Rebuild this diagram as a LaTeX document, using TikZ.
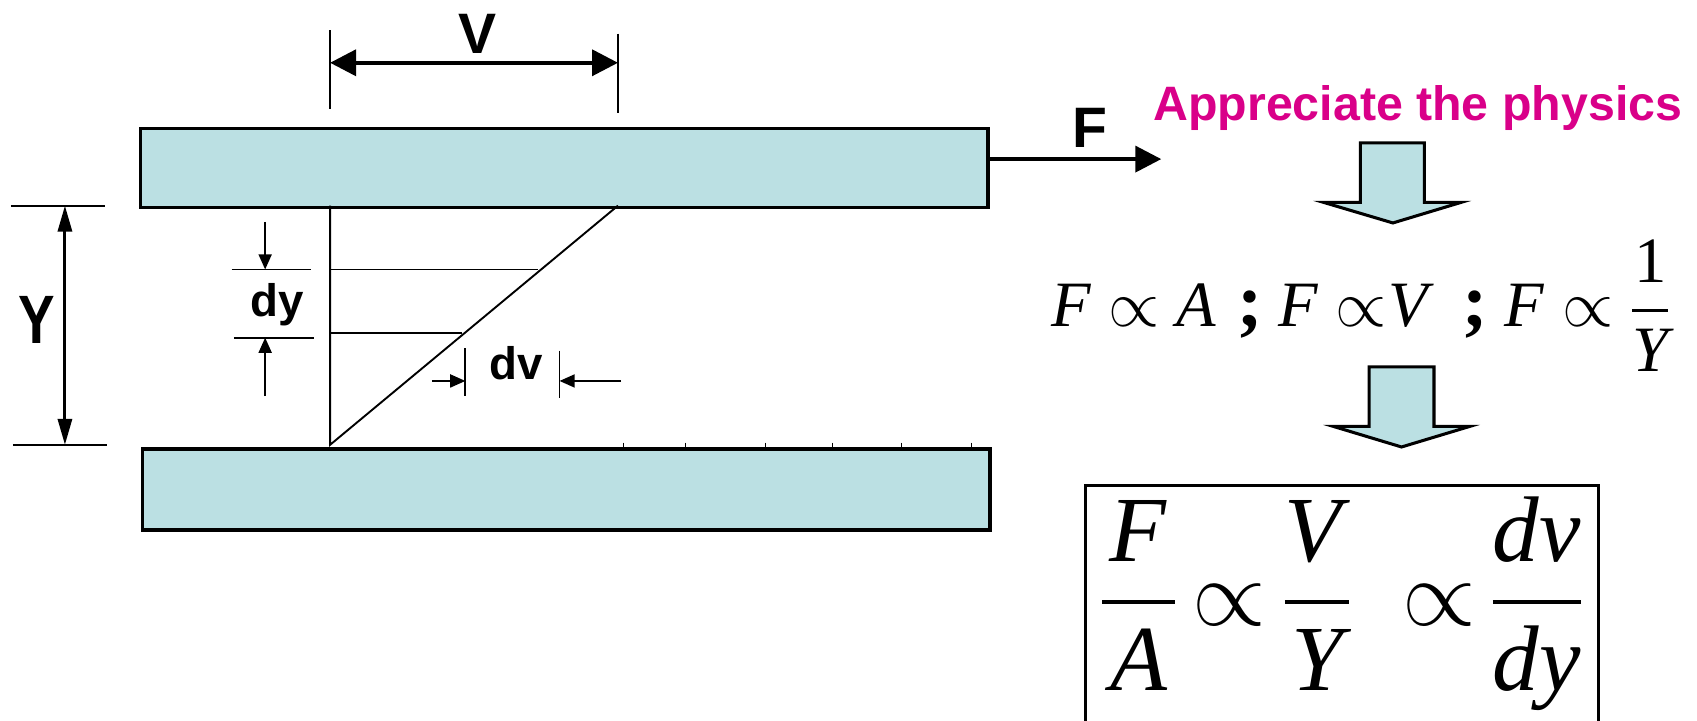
\documentclass[tikz,border=0pt]{standalone}
\usepackage{amsmath}
\usepackage{fontspec}
\setmainfont{Liberation Serif}
\newfontfamily\arialfont{Liberation Sans}
\usetikzlibrary{arrows.meta, positioning}
\definecolor{platecyan}{RGB}{187,224,227}
\definecolor{physmagenta}{RGB}{217,0,137}
\tikzset{
	plate/.style={draw=black, line width=1pt, fill=platecyan, anchor=north west, minimum width=78.3mm},
	thinline/.style={line width=0.5pt},
	bigtip/.style={-{Triangle[length=2.4mm,width=2.4mm]}},
	smalltip/.style={-{Triangle[length=1.4mm,width=1.2mm]}},
	lbl/.style={inner sep=0pt, font=\arialfont\bfseries\fontsize{15}{18}\selectfont},
	smalllbl/.style={inner sep=0pt, anchor=base, font=\arialfont\bfseries\fontsize{12}{14}\selectfont},
	blockarrow/.style={draw=black, line width=0.8pt, fill=platecyan},
	lineterm/.style={inner sep=0pt, anchor=base, font=\fontsize{17}{20}\selectfont},
	formula/.style={inner sep=0pt, anchor=base, font=\fontsize{24.5}{30}\selectfont},
}

\begin{document}
\begin{tikzpicture}[x=0.1mm, y=-0.1mm]
	\useasboundingbox (0,0) rectangle (1568,666);

	% plates
	\node[plate, minimum height=7.3mm] (topPlate) at (128,117) {};
	\node[plate, minimum height=7.5mm] (botPlate) at (130,413) {};
	\foreach \x in {576,633,707,769,833,898}
		\draw[line width=0.3pt] (\x,409) -- (\x,413);

	% velocity profile
	\coordinate (wallTop) at (305,190);
	\coordinate (wallBot) at (305,411);
	\coordinate (edgeTop) at (571,190);
	\draw[thinline] (wallTop) -- (wallBot) -- (edgeTop);
	\draw[thinline] (305,249) -- (497,249);
	\draw[thinline] (305,308) -- (427,308);

	% V
	\coordinate (vLeft) at (305,58);
	\coordinate (vRight) at (571,58);
	\draw[thinline] (305,28) -- (305,101);
	\draw[thinline] (571,31) -- (571,104);
	\draw[line width=1pt, {Triangle[length=2.4mm,width=2.4mm]}-{Triangle[length=2.4mm,width=2.4mm]}] (vLeft) -- (vRight);
	\node[lbl] (lblV) at (441,31) {V};

	% F
	\coordinate (fTip) at (1073,147);
	\draw[line width=1pt, bigtip] (topPlate.east |- fTip) -- (fTip);
	\node[lbl] (lblF) at (1007,118) {F};

	% Y
	\coordinate (yTop) at (60,190);
	\coordinate (yBot) at (60,411);
	\draw[thinline] (10,190) -- (97,190);
	\draw[thinline] (12,411) -- (99,411);
	\draw[line width=0.8pt, {Triangle[length=2.4mm,width=1.3mm]}-{Triangle[length=2.4mm,width=1.3mm]}] (yTop) -- (yBot);
	\node[lbl, font=\arialfont\bfseries\fontsize{18}{21}\selectfont, xscale=0.8] (lblY) at (34,296) {Y};

	% dy
	\draw[thinline] (214,249) -- (287,249);
	\draw[thinline] (216,312) -- (290,312);
	\draw[thinline, smalltip] (245,205) -- (245,249);
	\draw[thinline, smalltip] (245,366) -- (245,312);
	\node[smalllbl] (lblDy) at (256,292) {dy};

	% dv
	\draw[thinline] (430,322) -- (430,366);
	\draw[thinline] (517,324) -- (517,368);
	\draw[thinline, smalltip] (399,352) -- (430,352);
	\draw[thinline, smalltip] (574,352) -- (517,352);
	\node[smalllbl] (lblDv) at (477,351) {dv};

	% physics
	\node[inner sep=0pt, anchor=base, text=physmagenta, font=\arialfont\bfseries\fontsize{12.7}{15}\selectfont] (physics) at (1310,111) {Appreciate the physics};
	\filldraw[blockarrow] (1257,132) -- (1316,132) -- (1316,187) -- (1350,187) -- (1287,206) -- (1223,187) -- (1257,187) -- cycle;
	\foreach \px/\term [count=\i] in {990/\textit{F}, 1048/{$\propto$}, 1105/\textit{A}, 1155/{\fontsize{20}{20}\selectfont\textbf{;}}, 1200/\textit{F}, 1258/{$\propto$}, 1304/\textit{V}, 1363/{\fontsize{20}{20}\selectfont\textbf{;}}, 1409/\textit{F}, 1467/{$\propto$}, 1525/{$\dfrac{\text{1}}{\textit{Y}}$}}
		\node[lineterm] (term\i) at (\px,302) {\term};
	\filldraw[blockarrow] (1265,339) -- (1325,339) -- (1325,394) -- (1358,394) -- (1295,413) -- (1232,394) -- (1265,394) -- cycle;

	% result
	\draw[line width=0.8pt] (1003,666) -- (1003,449) -- (1477,449) -- (1477,666);
	\node[formula] (fracFA) at (1052,578) {$\dfrac{\makebox[19pt]{\textit{F}}}{\textit{A}}$};
	\node[formula] (propA) at (1136,578) {$\propto$};
	\node[formula] (fracVY) at (1217,578) {$\dfrac{\makebox[17pt]{\textit{V}}}{\textit{Y}}$};
	\node[formula] (propB) at (1330,578) {$\propto$};
	\node[formula] (fracDvDy) at (1420,578) {$\dfrac{\makebox[23pt]{\textit{dv}}}{\textit{dy}}$};
\end{tikzpicture}
\end{document}
